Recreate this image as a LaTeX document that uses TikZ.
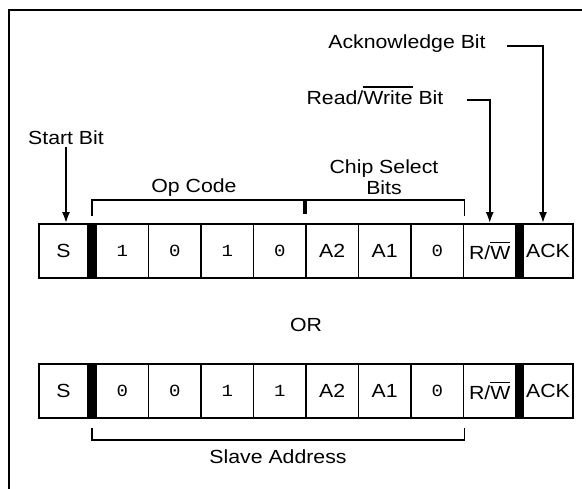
\documentclass[tikz,border=0pt]{standalone}
\usepackage{fontspec}
\setmainfont{Liberation Sans}[FakeStretch=1.12]
\newfontfamily\bitfont{Liberation Mono}[FakeStretch=1.12]
\usetikzlibrary{arrows.meta,positioning}
\newcommand{\nbar}[1]{\leavevmode\vbox{\hrule height 1.3pt\kern 3.5pt\hbox{#1}}}

\begin{document}
\begin{tikzpicture}[x=1pt,y=-1pt,
  cell/.style  ={draw,rectangle,minimum width=52.5pt,minimum height=54pt,
                 inner sep=0pt,line width=1.8pt,font=\fontsize{19}{21}\selectfont},
  bit/.style   ={font=\fontsize{17}{19}\selectfont\bitfont},
  sepbar/.style={draw,fill=black,rectangle,minimum height=54pt,inner sep=0pt,
                 line width=1.8pt},
  lbl/.style   ={font=\fontsize{19}{21}\selectfont,inner sep=2pt},
  arr/.style   ={-{Latex[length=11pt,width=8pt]},line width=1.8pt},
  brk/.style   ={line width=1.8pt}
]
\useasboundingbox (0,0) rectangle (582,489);

%% Frame (top and left edge only)
\draw[line width=2.2pt] (9,489) -- (9,10) -- (582,10);

%% Row 1 -- 1010 op code
\node[cell,minimum width=49pt] (s1)    at (63.5,251)   {S};
\node[sepbar,minimum width=8pt] (sepA1) at (92,251)    {};
\node[cell,bit] (p1)   at (122.25,251) {1};
\node[cell,bit] (p2)   at (174.75,251) {0};
\node[cell,bit] (p3)   at (227.25,251) {1};
\node[cell,bit] (p4)   at (279.75,251) {0};
\node[cell]     (cs1a) at (332.25,251) {A2};
\node[cell]     (cs1b) at (384.75,251) {A1};
\node[cell,bit] (cs1c) at (437.25,251) {0};
\node[cell]     (rw1)  at (489.75,251) {R/\nbar{W}};
\node[sepbar,minimum width=7pt] (sepB1) at (519.5,251) {};
\node[cell,minimum width=50pt] (ack1) at (548,251) {ACK};

%% Row 2 -- 0011 op code
\node[cell,minimum width=49pt] (s2)    at (63.5,391)   {S};
\node[sepbar,minimum width=8pt] (sepA2) at (92,391)    {};
\node[cell,bit] (q1)   at (122.25,391) {0};
\node[cell,bit] (q2)   at (174.75,391) {0};
\node[cell,bit] (q3)   at (227.25,391) {1};
\node[cell,bit] (q4)   at (279.75,391) {1};
\node[cell]     (cs2a) at (332.25,391) {A2};
\node[cell]     (cs2b) at (384.75,391) {A1};
\node[cell,bit] (cs2c) at (437.25,391) {0};
\node[cell]     (rw2)  at (489.75,391) {R/\nbar{W}};
\node[sepbar,minimum width=7pt] (sepB2) at (519.5,391) {};
\node[cell,minimum width=50pt] (ack2) at (548,391) {ACK};

%% Labels
\node[lbl] (startlbl) at (66,138) {Start Bit};
\node[lbl,anchor=base] (rwlbl) at (375,105) {Read/\nbar{Write} Bit};
\node[lbl] (acklbl) at (407,44) {Acknowledge Bit};
\node[lbl] (oplbl)  at (194,188) {Op Code};
\node[lbl,align=center] (cslbl) at (384,177) {Chip Select\\Bits};
\node[lbl] (orlbl)  at (306,325) {OR};
\node[lbl] (salbl)  at (278,457) {Slave Address};

%% Pointer arrows
\draw[arr] (startlbl.south) -- (startlbl.south |- s1.north);
\draw[arr] ([xshift=21pt,yshift=5pt]rwlbl.base east) -| (rw1.north);
\draw[arr] ([xshift=19pt,yshift=-2pt]acklbl.east) -| ([xshift=-5pt]ack1.north);

%% Brackets
\draw[brk] ([yshift=7pt]sepA1.north) -- ([yshift=23pt]sepA1.north)
           -| ([yshift=7pt]cs1c.north east);
\draw[line width=3.5pt] ([yshift=23pt]cs1a.north west) -- ([yshift=9pt]cs1a.north west);
\draw[brk] ([yshift=-9pt]sepA2.south) -- ([yshift=-21pt]sepA2.south)
           -| ([yshift=-9pt]cs2c.south east);
\end{tikzpicture}
\end{document}
